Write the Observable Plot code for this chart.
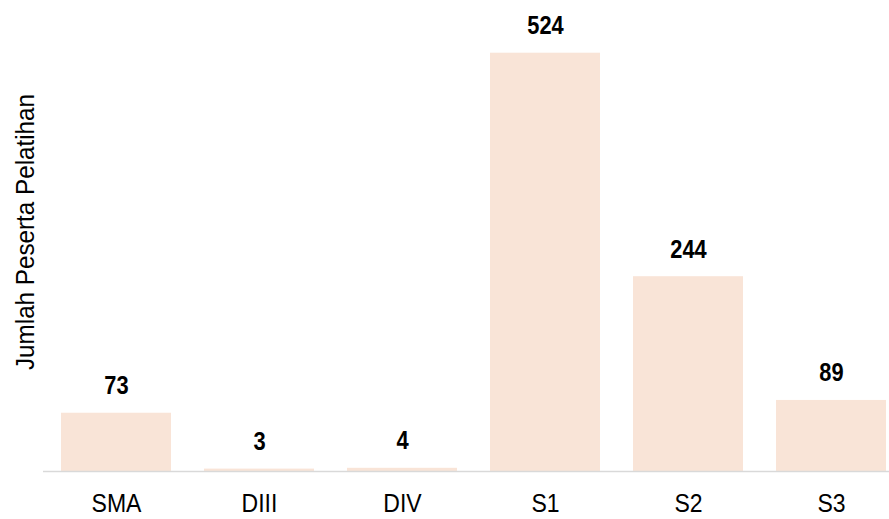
<!DOCTYPE html>
<html>
<head>
<meta charset="utf-8">
<script src="https://cdn.jsdelivr.net/npm/d3@7"></script>
<script src="https://cdn.jsdelivr.net/npm/@observablehq/plot@0.6"></script>
<style>
  html, body { margin: 0; padding: 0; background: #fff; overflow: hidden; }
  #chart svg { display: block; }
</style>
</head>
<body>
<div id="chart"></div>
<script>
const categories = ["SMA", "DIII", "DIV", "S1", "S2", "S3"];
const values = [73, 3, 4, 524, 244, 89];
const yLabel = "Jumlah Peserta Pelatihan";

const data = categories.map((c, i) => ({ cat: c, val: values[i] }));
const font = "'Liberation Sans', Arial, sans-serif";

const chart = Plot.plot({
  width: 889,
  height: 519,
  marginLeft: 43,
  marginRight: 0,
  marginTop: 0,
  marginBottom: 48,
  style: { fontFamily: font, background: "#fff", overflow: "hidden" },
  x: { domain: categories, paddingInner: 0.2324, paddingOuter: 0.068, align: 0.87, label: null },
  y: { domain: [0, 590], axis: null },
  marks: [
    Plot.barY(data, { x: "cat", y: "val", fill: "#F9E4D7" }),
    Plot.ruleY([0], { stroke: "#D9D9D9", strokeWidth: 1.5 }),
    Plot.text(data, { x: "cat", y: "val", text: d => String(d.val), dy: -27.5, fontSize: 26, fontWeight: "bold", fill: "#000", className: "vals" }),
    Plot.axisX({ tickSize: 0, tickPadding: 23, fontSize: 25, label: null, color: "#000", className: "xticks" }),
    Plot.text([yLabel], { frameAnchor: "left", dx: -18, dy: -4, rotate: -90, fontSize: 25, fill: "#000", text: d => d, textAnchor: "middle", className: "ytitle" })
  ]
});
document.getElementById("chart").appendChild(chart);

function squeeze(sel, factor, fixed) {
  chart.querySelectorAll(sel).forEach(t => {
    const len = t.getComputedTextLength();
    const target = fixed != null ? fixed : len * factor;
    t.setAttribute("textLength", target.toFixed(1));
    t.setAttribute("lengthAdjust", "spacingAndGlyphs");
  });
}
squeeze(".vals text", 0.84);
squeeze(".xticks text", 0.92);
squeeze(".ytitle text", null, 276);
</script>
</body>
</html>
